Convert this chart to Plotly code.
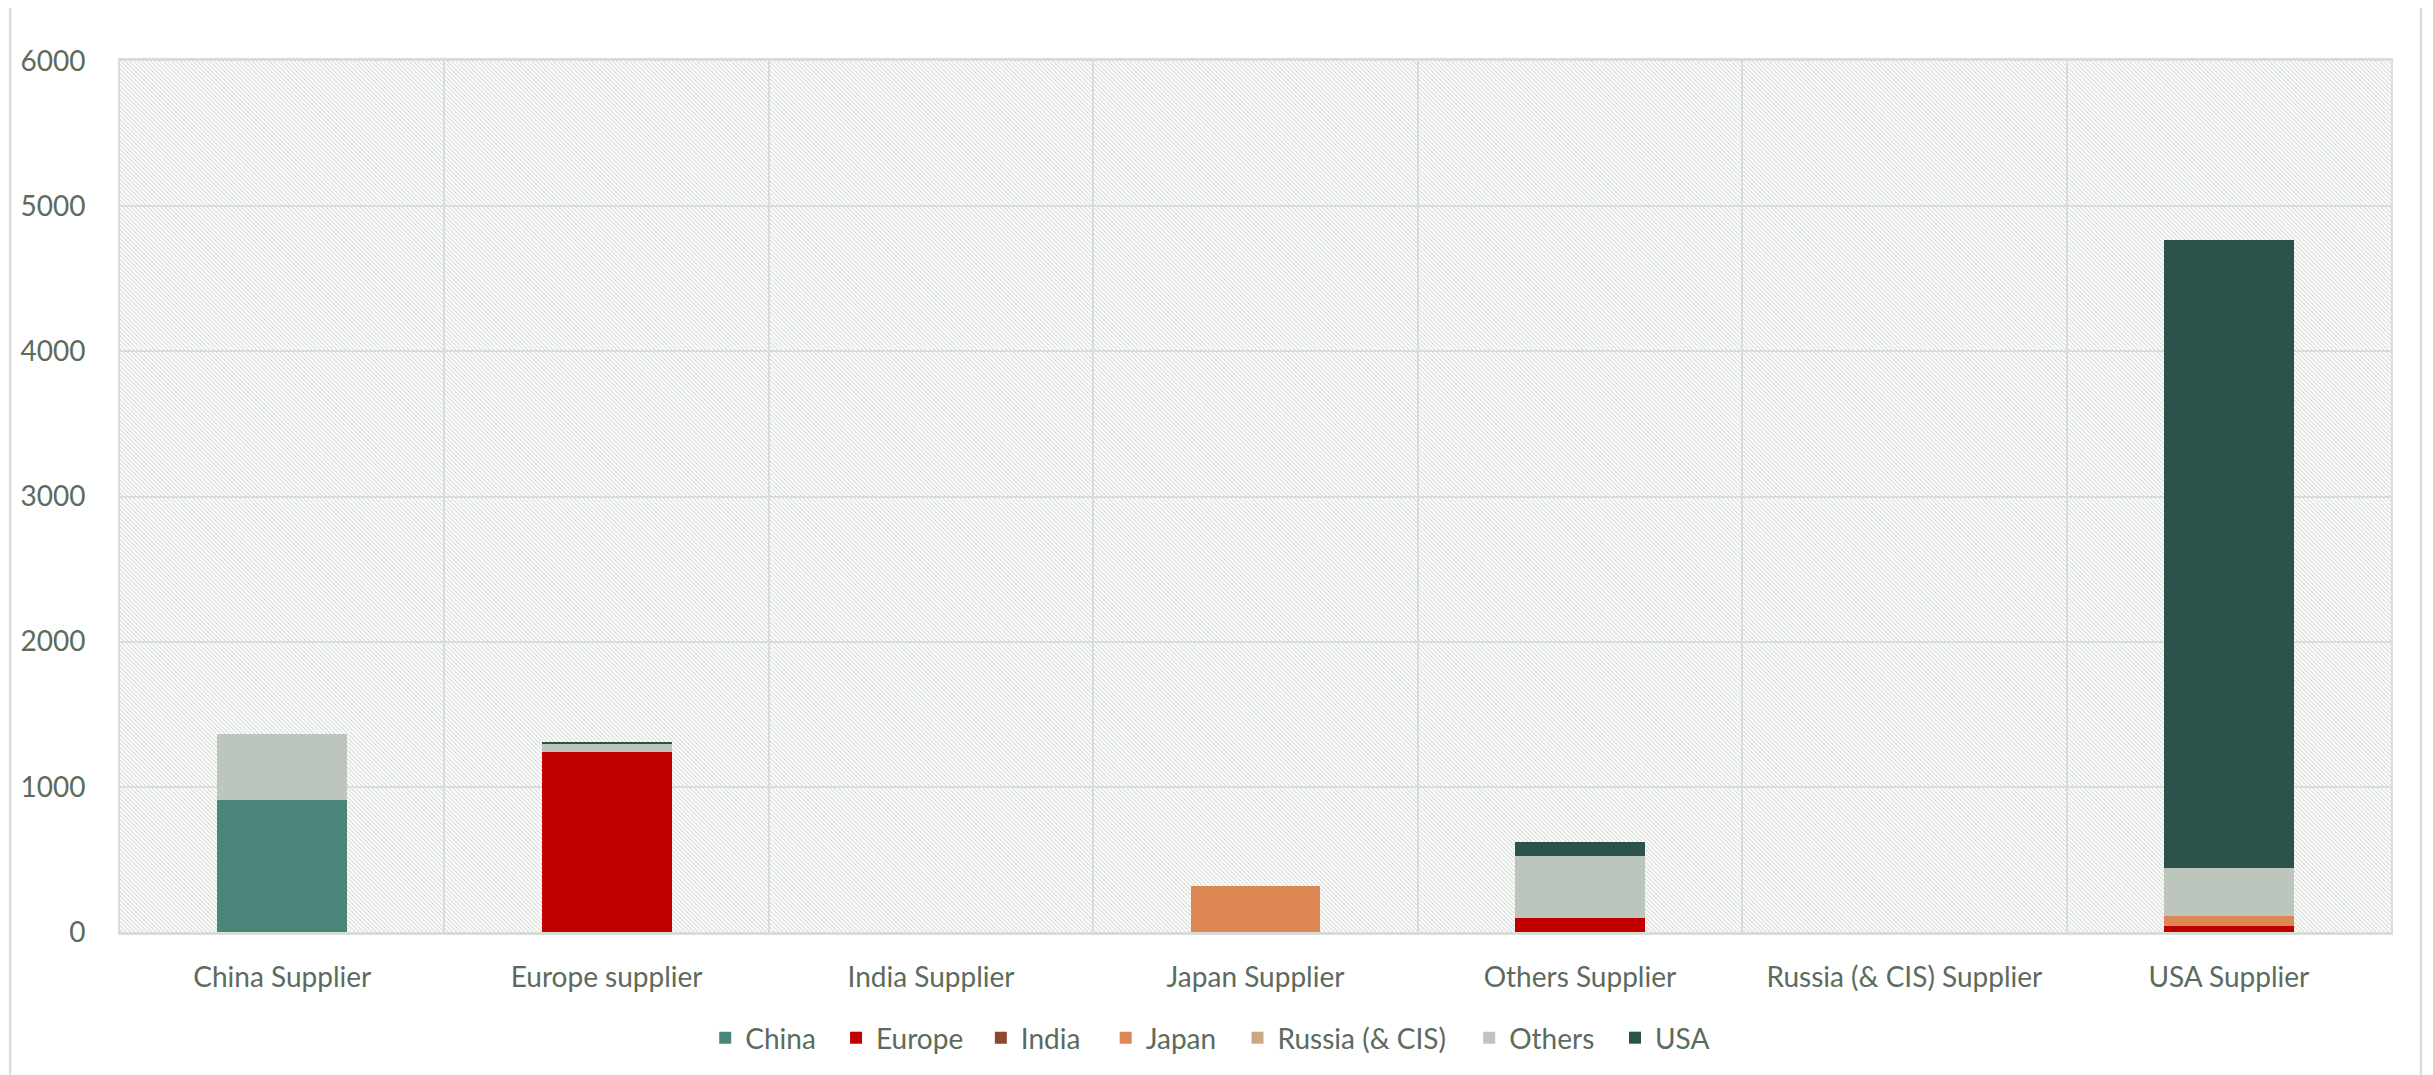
import base64
import plotly.graph_objects as go

categories = ["China Supplier", "Europe supplier", "India Supplier", "Japan Supplier",
              "Others Supplier", "Russia (& CIS) Supplier", "USA Supplier"]

series_names = ["China", "Europe", "India", "Japan", "Russia (& CIS)", "Others", "USA"]
china = [909, 0, 0, 0, 0, 0, 0]
europe = [0, 1240, 0, 0, 96, 0, 43]
india = [0, 0, 0, 0, 0, 0, 0]
japan = [0, 0, 0, 317, 0, 0, 68]
russia = [0, 0, 0, 0, 0, 0, 0]
others = [455, 53, 0, 0, 428, 0, 330]
usa = [0, 18, 0, 0, 97, 0, 4327]
series_values = [china, europe, india, japan, russia, others, usa]
colors = ["#4a867a", "#c00000", "#8b4a2d", "#dd8755", "#c8a982", "#bcc6bc", "#2c524c"]

y_ticks = [0, 1000, 2000, 3000, 4000, 5000, 6000]

# page geometry (browser body has an 8px margin)
OFF = 8
PAGE_W, PAGE_H = 2433, 1075
PL, PT, PR, PB = 117, 61, 2391, 932   # plot area in page pixels
W, H = PAGE_W - OFF, PAGE_H - OFF
L, T = PL - OFF, PT - OFF
PW, PH = PR - PL, PB - PT
R = W - L - PW
B = H - T - PH

# legend swatch left edges in page pixels (layout only)
legend_left_px = [724, 855, 1000, 1125, 1257, 1489, 1635]

TEXT = "#5b6b5d"
GRID = "#d8ddd8"
FONT = "Lato"

svg = f'''<svg xmlns="http://www.w3.org/2000/svg" width="{PW}" height="{PH}">
<defs><pattern id="h" patternUnits="userSpaceOnUse" width="3" height="3" patternTransform="rotate(-45)">
<rect x="0" y="0" width="1.15" height="3" fill="#d6dcd6"/></pattern></defs>
<rect width="{PW}" height="{PH}" fill="#ffffff"/>
<rect width="{PW}" height="{PH}" fill="url(#h)"/></svg>'''
src = "data:image/svg+xml;base64," + base64.b64encode(svg.encode()).decode()


def px_x(p):
    return (p - PL) / PW


def px_y(p):
    return (PB - p) / PH


fig = go.Figure()
legend_layouts = {}
for i, (name, vals, col) in enumerate(zip(series_names, series_values, colors)):
    lg = "legend" if i == 0 else f"legend{i + 1}"
    fig.add_trace(go.Bar(x=categories, y=vals, name=name, legend=lg,
                         marker=dict(color=col, line=dict(width=0))))
    legend_layouts[lg] = dict(orientation="h", x=px_x(legend_left_px[i] - 21), xanchor="left",
                              y=px_y(1038), yanchor="middle",
                              font=dict(size=28, color=TEXT, family=FONT), itemwidth=30,
                              bgcolor="rgba(0,0,0,0)", borderwidth=0)

fig.update_layout(
    width=W, height=H,
    margin=dict(l=L, r=R, t=T, b=B),
    barmode="stack", bargap=0.6,
    paper_bgcolor="white", plot_bgcolor="rgba(0,0,0,0)",
    font=dict(family=FONT, color=TEXT, size=27),
    showlegend=True,
    images=[dict(source=src, xref="paper", yref="paper", x=0, y=1, sizex=1, sizey=1,
                 xanchor="left", yanchor="top", sizing="stretch", layer="below")],
    shapes=[dict(type="rect", xref="paper", yref="paper",
                 x0=px_x(7), x1=px_x(2421), y0=px_y(1090), y1=px_y(5),
                 line=dict(color=GRID, width=2.5), fillcolor="rgba(0,0,0,0)", layer="below")],
    xaxis=dict(type="category", tickson="boundaries", showgrid=True, gridcolor=GRID, gridwidth=2,
               showline=True, linecolor=GRID, linewidth=2.5, mirror=True,
               ticks="", ticklabelstandoff=19, tickfont=dict(size=28, color=TEXT)),
    yaxis=dict(range=[0, 6000], tickvals=y_ticks, showgrid=True, gridcolor=GRID, gridwidth=2,
               showline=True, linecolor=GRID, linewidth=2, mirror=True, zeroline=False,
               ticks="", ticklabelstandoff=27, tickfont=dict(size=28, color=TEXT)),
    **legend_layouts,
)

fig.write_html("out.html")
